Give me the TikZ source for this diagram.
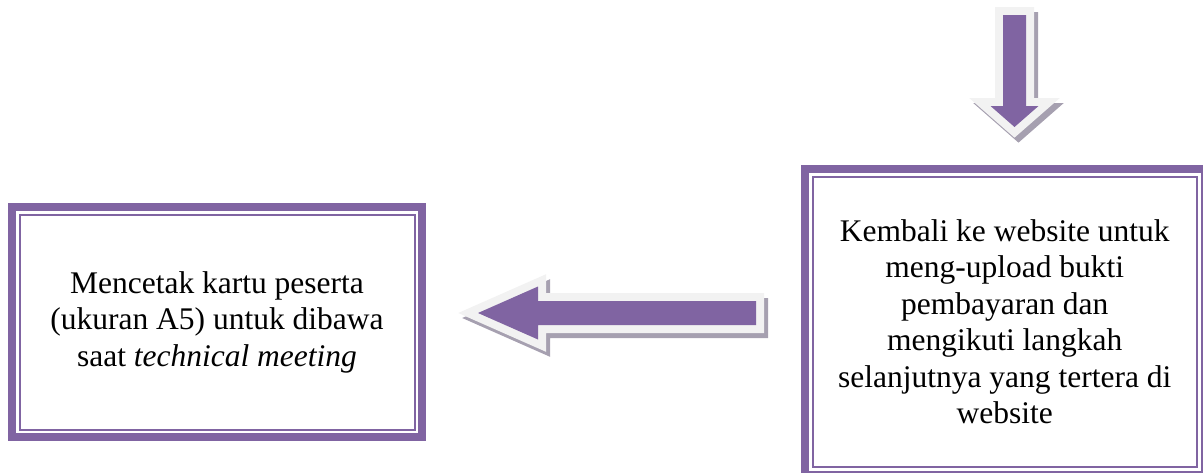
\documentclass[tikz,border=0pt]{standalone}
\usepackage{fontspec}
\setmainfont{Liberation Serif}
\definecolor{accent}{HTML}{8064A2}
\definecolor{arrowedge}{HTML}{F2F2F2}
\definecolor{shadowc}{RGB}{166,160,176}
\tikzset{
  stepbox/.style={draw=accent, line width=8pt, fill=white, align=center,
    inner sep=0pt, outer sep=0pt, font=\fontsize{31.5}{36.5}\selectfont},
  thinframe/.style={draw=accent, line width=2pt},
  blockarrow/.style={line join=miter,
    preaction={draw=shadowc, fill=shadowc, line width=16pt, line join=miter,
      transform canvas={shift={(4pt,-5pt)}}},
    preaction={draw=arrowedge, fill=arrowedge, line width=16pt, line join=miter},
    fill=accent}
}
\begin{document}
\begin{tikzpicture}[x=1pt,y=-1pt]
\useasboundingbox (0,0) rectangle (1203,472);
\clip (0,0) rectangle (1203,472);
% boxes
\node[stepbox, minimum width=410pt, minimum height=230pt] (cetak) at (217,322)
  {Mencetak kartu peserta\\(ukuran A5) untuk dibawa\\saat \textit{technical meeting}};
\draw[thinframe] ([shift={(7.5,7.5)}]cetak.north west) rectangle ([shift={(-7.5,-7.5)}]cetak.south east);
\node[stepbox, minimum width=399.5pt, minimum height=305.5pt] (upload) at (1004.75,321.75)
  {Kembali ke website untuk\\meng-upload bukti\\pembayaran dan\\mengikuti langkah\\selanjutnya yang tertera di\\website};
\draw[thinframe] ([shift={(7.5,7.5)}]upload.north west) rectangle ([shift={(-7.5,-7.5)}]upload.south east);
% left block arrow
\path[blockarrow] (478,313) -- (538,286.5) -- (538,301) -- (756,301) -- (756,325)
  -- (538,325) -- (538,339.5) -- cycle;
% down block arrow
\path[blockarrow] (1003,15) -- (1026,15) -- (1026,106) -- (1038.5,106) -- (1014.5,127)
  -- (990.5,106) -- (1003,106) -- cycle;
\end{tikzpicture}
\end{document}
